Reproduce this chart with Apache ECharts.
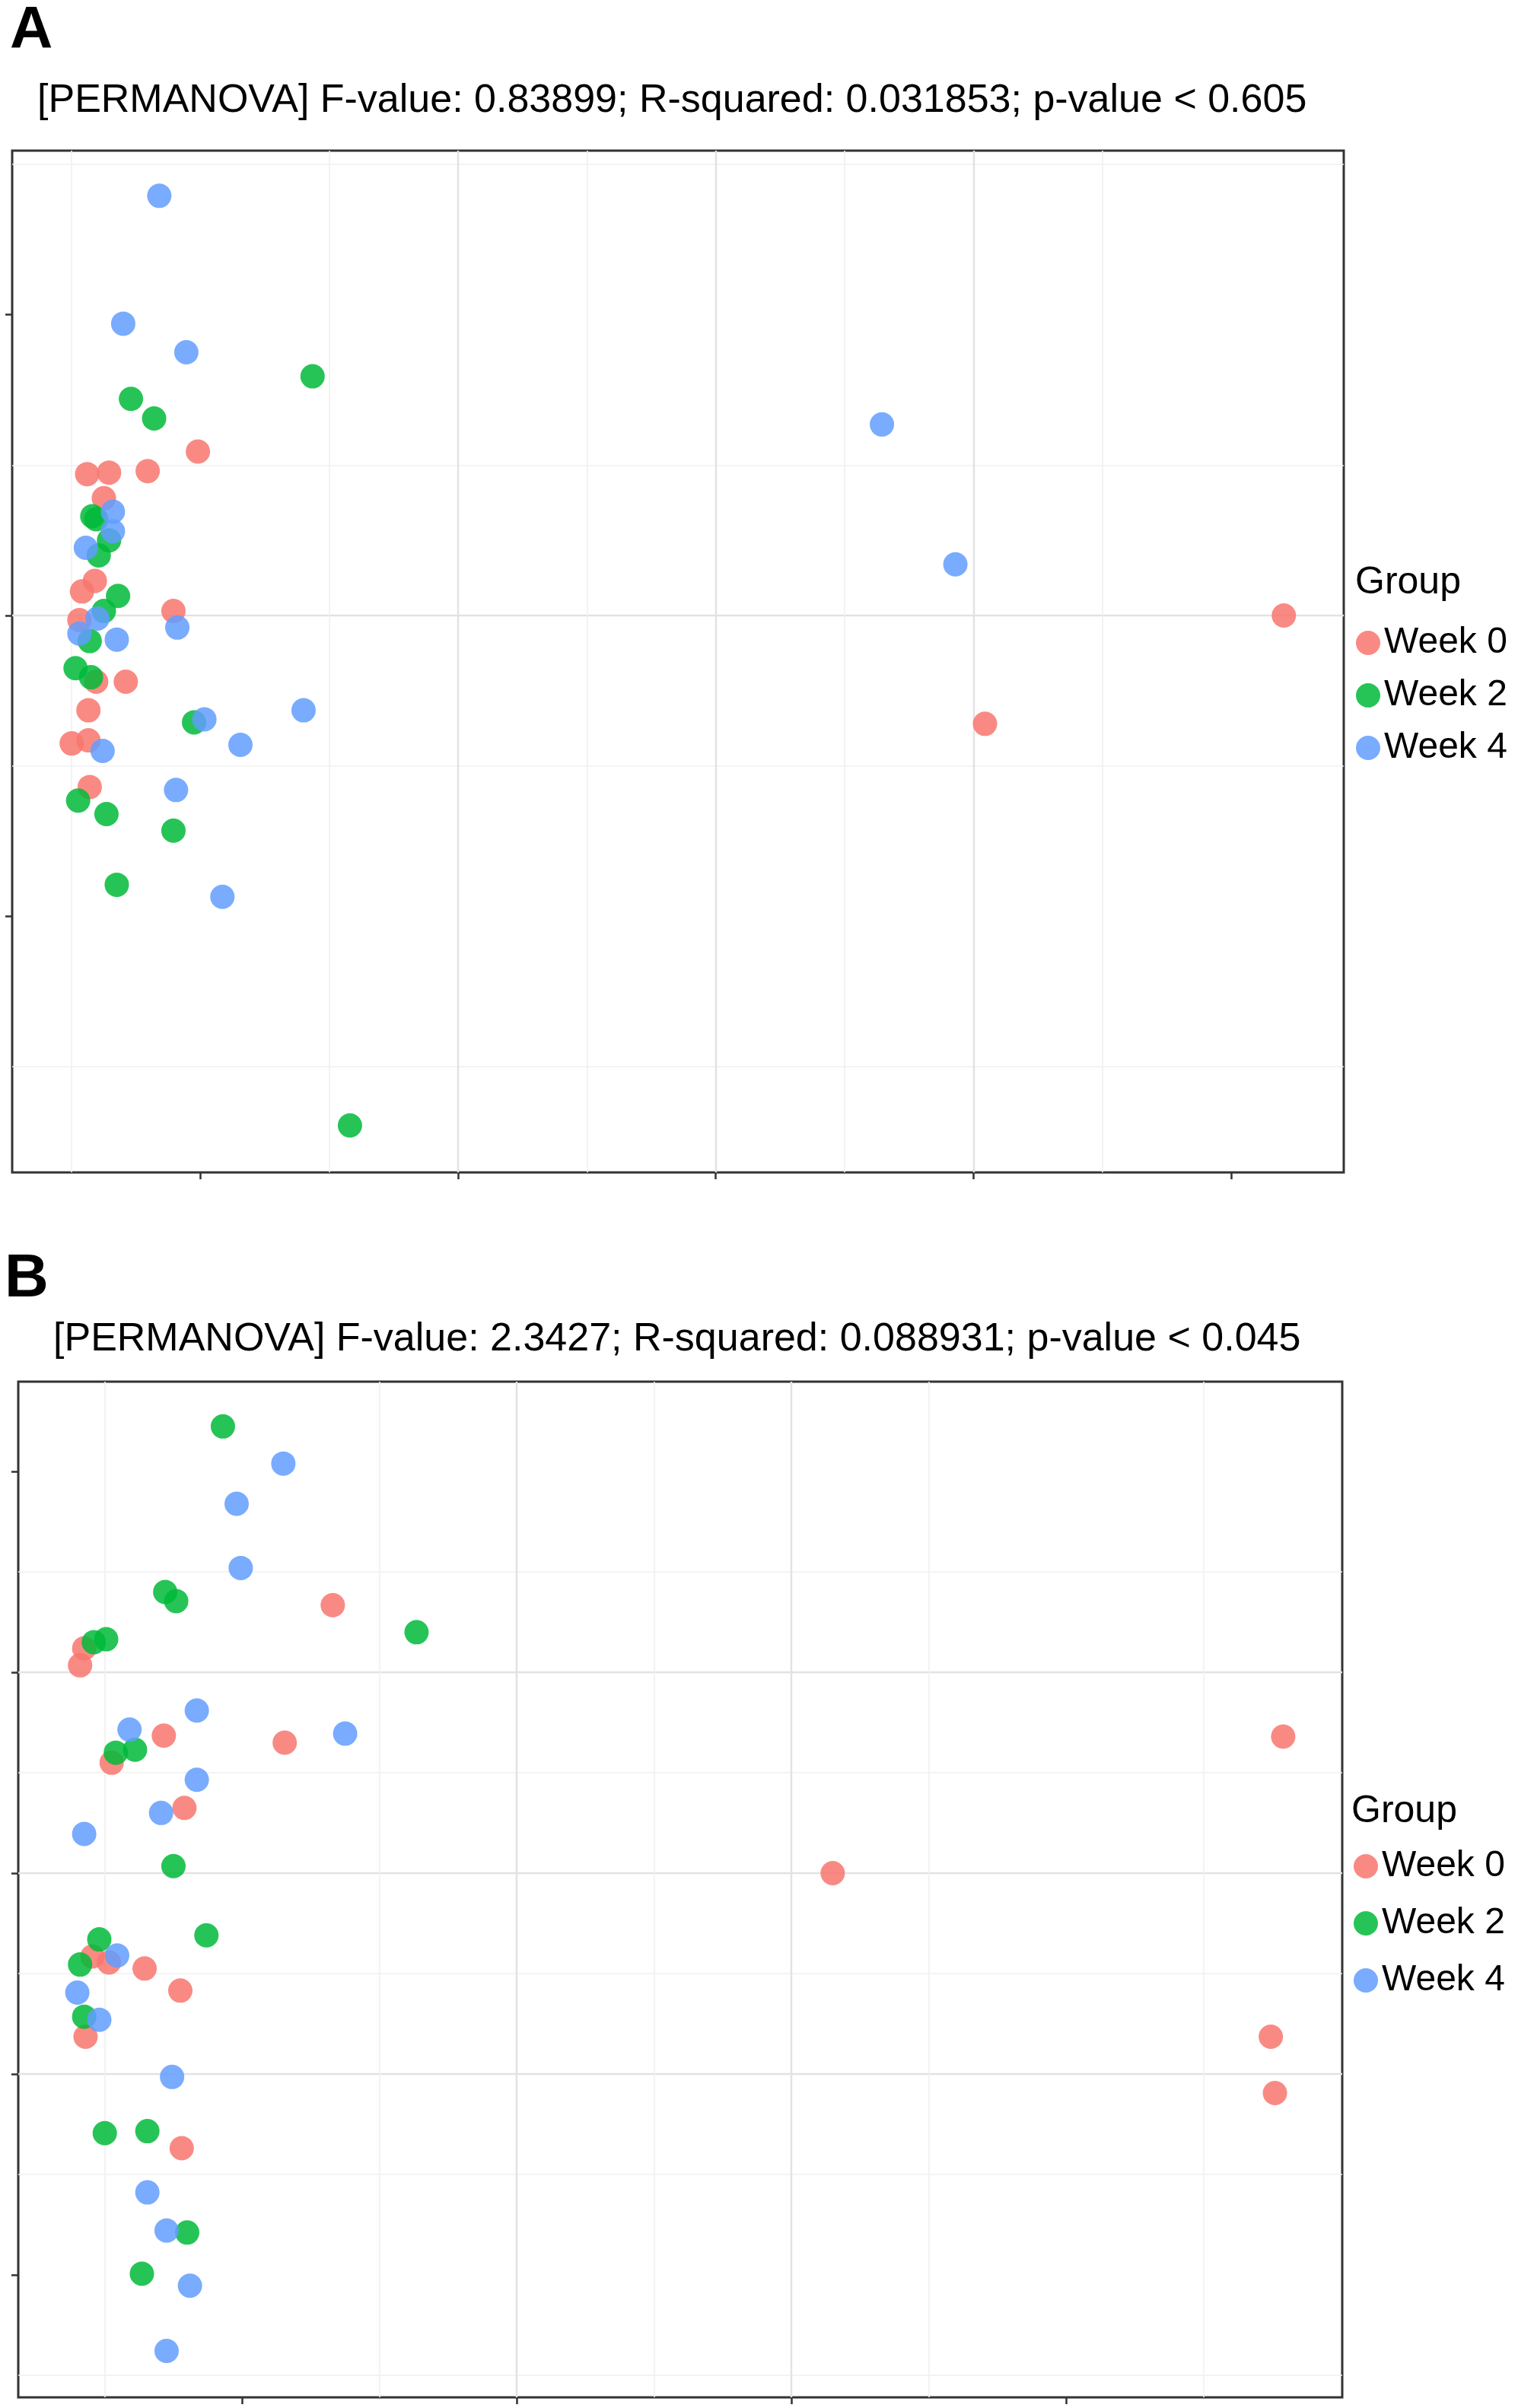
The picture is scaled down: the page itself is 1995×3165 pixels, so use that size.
<!DOCTYPE html>
<html>
<head>
<meta charset="utf-8">
<title>PERMANOVA ordination, week 0 / 2 / 4</title>
<script src="https://cdn.jsdelivr.net/npm/echarts@6/dist/echarts.min.js"></script>
<style>
html, body { margin: 0; padding: 0; background: #fff; }
#main { width: 1995px; height: 3165px; }
</style>
</head>
<body>
<div id="main"></div>
<script>
// 组名
var groups = ['Week 0', 'Week 2', 'Week 4'];
var groupColors = ['#F8766D', '#00BA38', '#619CFF'];

// panel A 坐标 (x, y)
var aWeek0 = [[-0.002, 0.109], [-0.088, 0.094], [-0.071, 0.095], [-0.041, 0.096], [-0.075, 0.078],
    [-0.082, 0.023], [-0.092, 0.016], [-0.094, -0.003], [-0.021, 0.003], [-0.081, -0.044],
    [-0.058, -0.044], [-0.087, -0.063], [-0.100, -0.085], [-0.087, -0.083], [-0.086, -0.114],
    [0.841, 0.000], [0.609, -0.072]];
var aWeek2 = [[0.087, 0.159], [-0.054, 0.144], [-0.036, 0.131], [-0.084, 0.066], [-0.081, 0.064],
    [-0.071, 0.050], [-0.079, 0.040], [-0.064, 0.013], [-0.075, 0.003], [-0.086, -0.017],
    [-0.097, -0.035], [-0.085, -0.041], [-0.005, -0.071], [-0.095, -0.123], [-0.073, -0.132],
    [-0.021, -0.143], [-0.065, -0.179], [0.116, -0.339]];
var aWeek4 = [[-0.032, 0.279], [-0.060, 0.194], [-0.011, 0.175], [-0.068, 0.069], [-0.068, 0.056],
    [-0.089, 0.045], [-0.080, -0.002], [-0.094, -0.012], [-0.065, -0.016], [-0.018, -0.008],
    [0.003, -0.069], [0.080, -0.063], [0.031, -0.086], [-0.076, -0.090], [-0.019, -0.116],
    [0.017, -0.187], [0.529, 0.127], [0.586, 0.034]];

// panel B 坐标
var bWeek0 = [[0.066, 0.267], [-0.115, 0.224], [-0.118, 0.207], [-0.057, 0.137], [0.031, 0.130],
    [-0.095, 0.110], [-0.042, 0.065], [-0.109, -0.083], [-0.097, -0.089], [-0.071, -0.095],
    [-0.045, -0.117], [-0.114, -0.163], [-0.044, -0.274], [0.758, 0.136], [0.430, 0.000],
    [0.749, -0.163], [0.752, -0.219]];
var bWeek2 = [[-0.014, 0.445], [-0.056, 0.280], [-0.048, 0.271], [0.127, 0.240], [-0.099, 0.233],
    [-0.108, 0.230], [-0.078, 0.123], [-0.092, 0.120], [-0.050, 0.007], [-0.026, -0.062],
    [-0.104, -0.066], [-0.118, -0.091], [-0.115, -0.143], [-0.100, -0.259], [-0.069, -0.257],
    [-0.040, -0.358], [-0.073, -0.399]];
var bWeek4 = [[0.030, 0.408], [-0.004, 0.368], [-0.001, 0.304], [-0.033, 0.162], [-0.082, 0.143],
    [0.075, 0.139], [-0.033, 0.093], [-0.059, 0.060], [-0.115, 0.039], [-0.091, -0.082],
    [-0.120, -0.119], [-0.104, -0.146], [-0.051, -0.203], [-0.069, -0.318], [-0.055, -0.356],
    [-0.038, -0.411], [-0.055, -0.476]];

// 刻度位置 (没有刻度文字)
var aTicksX = [0, 0.2, 0.4, 0.6, 0.8];
var aTicksY = [-0.2, 0, 0.2];
var bTicksX = [0, 0.2, 0.4, 0.6];
var bTicksY = [-0.4, -0.2, 0, 0.2, 0.4];

var titleA = '[PERMANOVA] F-value: 0.83899; R-squared: 0.031853; p-value < 0.605';
var titleB = '[PERMANOVA] F-value: 2.3427; R-squared: 0.088931; p-value < 0.045';

(function () {
    var FONT = '"Liberation Sans", Arial, Helvetica, sans-serif';
    var myChart = echarts.init(document.getElementById('main'), null, { renderer: 'canvas' });

    // 坐标轴：只要刻度线和网格线，轴放在边框上 (不过零点)
    function valueAxis(gridIndex, min, max, splitNumber, ticks) {
        return {
            type: 'value',
            gridIndex: gridIndex,
            min: min,
            max: max,
            splitNumber: splitNumber,
            axisLine: { show: false, onZero: false },
            axisLabel: { show: false },
            axisTick: {
                show: true,
                length: 9,
                customValues: ticks,
                lineStyle: { color: '#333', width: 2.5 }
            },
            splitLine: {
                show: true,
                showMinLine: false,
                showMaxLine: false,
                lineStyle: { color: '#e2e2e2', width: 2.4 }
            },
            minorTick: { show: false, splitNumber: 2 },
            minorSplitLine: {
                show: true,
                lineStyle: { color: '#f0f0f0', width: 1.6 }
            }
        };
    }

    function scatter(name, data, idx, colorIdx) {
        return {
            name: name,
            type: 'scatter',
            xAxisIndex: idx,
            yAxisIndex: idx,
            data: data,
            symbolSize: 32,
            itemStyle: { color: groupColors[colorIdx], opacity: 0.85 },
            emphasis: { disabled: true }
        };
    }

    function legend(left, top, gap) {
        return {
            orient: 'vertical',
            left: left,
            top: top,
            icon: 'circle',
            itemWidth: 32,
            itemHeight: 32,
            itemGap: gap,
            selectedMode: false,
            data: groups,
            textStyle: { fontSize: 48, color: '#000', fontFamily: FONT }
        };
    }

    function label(text, x, y, size, weight) {
        return {
            type: 'text',
            x: x,
            y: y,
            style: {
                text: text,
                fill: '#000',
                font: weight + ' ' + size + 'px ' + FONT,
                verticalAlign: 'middle'
            }
        };
    }

    var option = {
        animation: false,
        backgroundColor: '#fff',
        grid: [
            { left: 16, top: 198, width: 1750, height: 1343, show: true, borderColor: '#333', borderWidth: 3 },
            { left: 24, top: 1816, width: 1740, height: 1335, show: true, borderColor: '#333', borderWidth: 3 }
        ],
        xAxis: [
            valueAxis(0, -0.1462, 0.8875, 5, aTicksX),
            valueAxis(1, -0.163, 0.801, 5, bTicksX)
        ],
        yAxis: [
            valueAxis(0, -0.3702, 0.309, 3, aTicksY),
            valueAxis(1, -0.5222, 0.4896, 5, bTicksY)
        ],
        legend: [
            legend(1777, 816, 21),
            legend(1774, 2424, 27)
        ],
        graphic: [
            label('A', 13, 41, 78, 'bold'),
            label('B', 6, 1682, 80, 'bold'),
            label(titleA, 49, 133, 52, 'normal'),
            label(titleB, 70, 1761, 52, 'normal'),
            label('Group', 1781, 766, 50, 'normal'),
            label('Group', 1776, 2381, 50, 'normal')
        ],
        series: [
            scatter(groups[0], aWeek0, 0, 0),
            scatter(groups[1], aWeek2, 0, 1),
            scatter(groups[2], aWeek4, 0, 2),
            scatter(groups[0], bWeek0, 1, 0),
            scatter(groups[1], bWeek2, 1, 1),
            scatter(groups[2], bWeek4, 1, 2)
        ]
    };
    myChart.setOption(option);
    window.addEventListener('resize', function () {
        myChart.resize();
    });
})();
</script>
</body>
</html>
